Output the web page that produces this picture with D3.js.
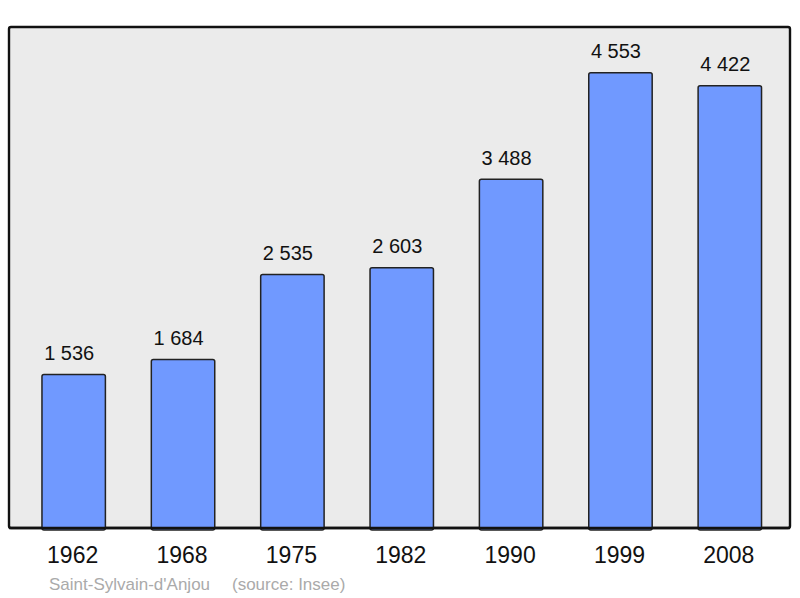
<!DOCTYPE html>
<html>
<head>
<meta charset="utf-8">
<script src="https://cdn.jsdelivr.net/npm/d3@7"></script>
<style>
  body { margin: 0; background: #fff; }
  svg { display: block; font-family: "Liberation Sans", Arial, sans-serif; }
</style>
</head>
<body>
<svg id="chart" width="800" height="598"></svg>
<script>
// population by census year
const years = ["1962", "1968", "1975", "1982", "1990", "1999", "2008"];
const population = [1536, 1684, 2535, 2603, 3488, 4553, 4422];
const commune = "Saint-Sylvain-d'Anjou";
const source = "(source: Insee)";

const svg = d3.select("#chart");
const frame = {left: 9, top: 27, right: 790, bottom: 528};

// plot background
svg.append("rect")
  .attr("x", frame.left).attr("y", frame.top)
  .attr("width", frame.right - frame.left).attr("height", frame.bottom - frame.top)
  .attr("rx", 2)
  .attr("fill", "#ebebeb")
  .attr("stroke", "#111").attr("stroke-width", 2.4);

const x = d3.scaleBand().domain(years)
  .range([19, 784.5])
  .paddingInner(0.42).paddingOuter(0.21);
const y = d3.scaleLinear().domain([0, 5000]).range([frame.bottom, frame.bottom - 500]);

const data = years.map((yr, i) => ({year: yr, value: population[i]}));
const fmt = v => d3.format(",")(v).replace(/,/g, " ");

// bars
svg.append("g").selectAll("rect").data(data).join("rect")
  .attr("x", d => x(d.year))
  .attr("y", d => y(d.value))
  .attr("width", x.bandwidth())
  .attr("height", d => y(0) - y(d.value) + 2)
  .attr("rx", 2)
  .attr("fill", "#7099ff")
  .attr("stroke", "#222").attr("stroke-width", 1.5);

// redraw frame bottom line over the bars
svg.append("line")
  .attr("x1", frame.left).attr("x2", frame.right)
  .attr("y1", frame.bottom).attr("y2", frame.bottom)
  .attr("stroke", "#111").attr("stroke-width", 2.4);

// value labels (sit a little left of bar centre, as in the original)
svg.append("g").selectAll("text").data(data).join("text")
  .attr("x", d => x(d.year) + x.bandwidth() / 2 - 4.5)
  .attr("y", d => y(d.value) - 14.5)
  .attr("text-anchor", "middle")
  .attr("font-size", 20)
  .attr("fill", "#111")
  .text(d => fmt(d.value));

// year labels
svg.append("g").selectAll("text").data(years).join("text")
  .attr("x", d => x(d) + x.bandwidth() / 2 - 1)
  .attr("y", 563)
  .attr("text-anchor", "middle")
  .attr("font-size", 23)
  .attr("fill", "#111")
  .text(d => d);

// footer
svg.append("text").attr("x", 49).attr("y", 590)
  .attr("font-size", 17).attr("fill", "#aaa").text(commune);
svg.append("text").attr("x", 232).attr("y", 590)
  .attr("font-size", 17).attr("fill", "#aaa").text(source);
</script>
</body>
</html>
